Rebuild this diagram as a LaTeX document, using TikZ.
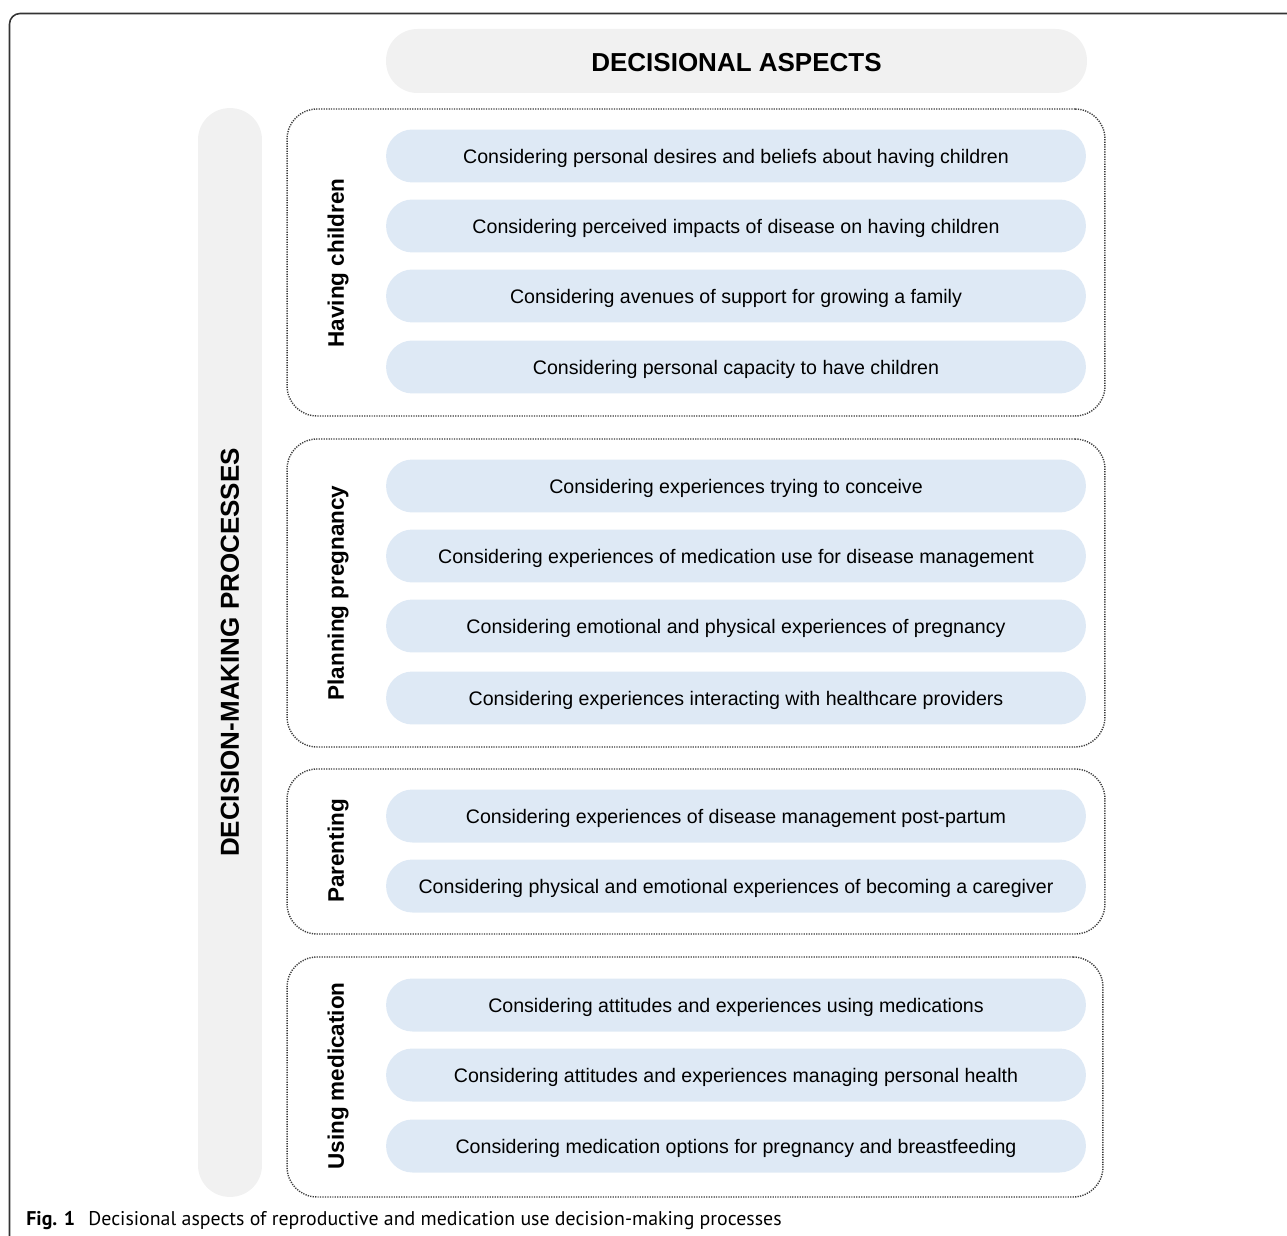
\documentclass[tikz,border=0pt]{standalone}
\usepackage{fontspec}
\setmainfont{Liberation Sans}
\newfontfamily\capfont{PT Sans}
\usetikzlibrary{backgrounds}

\definecolor{aspectgray}{HTML}{F1F1F1}
\definecolor{aspectblue}{HTML}{DEE9F5}
\definecolor{dotgray}{HTML}{3A3A3A}
\definecolor{framegray}{HTML}{333333}

\tikzset{
  aspect/.style={fill=aspectblue, rounded corners=15pt, minimum width=14cm, minimum height=1.06cm, inner sep=0pt, text height=9.4pt, text depth=1.3pt, font=\fontsize{11.15}{13}\selectfont},
  group/.style={draw=dotgray, line width=0.8pt, dash pattern=on 0.7pt off 0.7pt, rounded corners=17pt, inner sep=0pt},
  grouplabel/.style={rotate=90, inner sep=0pt, font=\bfseries\fontsize{12.8}{15}\selectfont},
  headbox/.style={fill=aspectgray, inner sep=0pt, font=\bfseries\fontsize{14.8}{17}\selectfont}
}

\begin{document}
\begin{tikzpicture}[x=0.02cm, y=-0.02cm]

\useasboundingbox (0,0) rectangle (1287,1236);

%%%%%%%%%%%%%%% Frame
\draw [line width=0.9pt, framegray, rounded corners=6pt] (9.5,1236) -- (9.5,13.5) -- (1287,13.5);

%%%%%%%%%%%%%%% Headers
\node [headbox, rounded corners=17.8pt, minimum width=14.02cm, minimum height=1.28cm, text height=11.6pt, text depth=0pt] (aspects) at (736.5,61) {DECISIONAL ASPECTS};
\node [headbox, rotate=90, rounded corners=18pt, minimum width=21.78cm, minimum height=1.28cm] (processes) at (230,652.5) {DECISION-MAKING PROCESSES};

%%%%%%%%%%%%%%% Groups
\node [group, minimum width=16.36cm, minimum height=6.14cm] (children) at (696,262.5) {};
\node [group, minimum width=16.36cm, minimum height=6.16cm] (pregnancy) at (696,593) {};
\node [group, minimum width=16.36cm, minimum height=3.3cm] (parenting) at (696,851.5) {};
\node [group, minimum width=16.32cm, minimum height=4.8cm] (medication) at (695,1077) {};

\node [grouplabel] (childrenlab) at (338,263) {Having children};
\node [grouplabel] (pregnancylab) at (338,593) {Planning pregnancy};
\node [grouplabel] (parentinglab) at (338,851) {Parenting};
\node [grouplabel] (medicationlab) at (338,1076) {Using medication};

%%%%%%%%%%%%%%% Having children
\node [aspect] (c1) at (736,156) {Considering personal desires and beliefs about having children};
\node [aspect] (c2) at (736,226) {Considering perceived impacts of disease on having children};
\node [aspect] (c3) at (736,296) {Considering avenues of support for growing a family};
\node [aspect] (c4) at (736,367) {Considering personal capacity to have children};

%%%%%%%%%%%%%%% Planning pregnancy
\node [aspect] (p1) at (736,486) {Considering experiences trying to conceive};
\node [aspect] (p2) at (736,556) {Considering experiences of medication use for disease management};
\node [aspect] (p3) at (736,626) {Considering emotional and physical experiences of pregnancy};
\node [aspect] (p4) at (736,698) {Considering experiences interacting with healthcare providers};

%%%%%%%%%%%%%%% Parenting
\node [aspect] (r1) at (736,816) {Considering experiences of disease management post-partum};
\node [aspect] (r2) at (736,886) {Considering physical and emotional experiences of becoming a caregiver};

%%%%%%%%%%%%%%% Using medication
\node [aspect] (m1) at (736,1005) {Considering attitudes and experiences using medications};
\node [aspect] (m2) at (736,1075) {Considering attitudes and experiences managing personal health};
\node [aspect] (m3) at (736,1146) {Considering medication options for pregnancy and breastfeeding};

%%%%%%%%%%%%%%% Caption
\node [anchor=base west, inner sep=0pt] (caption) at (26,1225) {\capfont\fontsize{11.3}{13}\selectfont\textbf{Fig. 1}\hspace{7.5pt}Decisional aspects of reproductive and medication use decision-making processes};

\end{tikzpicture}
\end{document}
